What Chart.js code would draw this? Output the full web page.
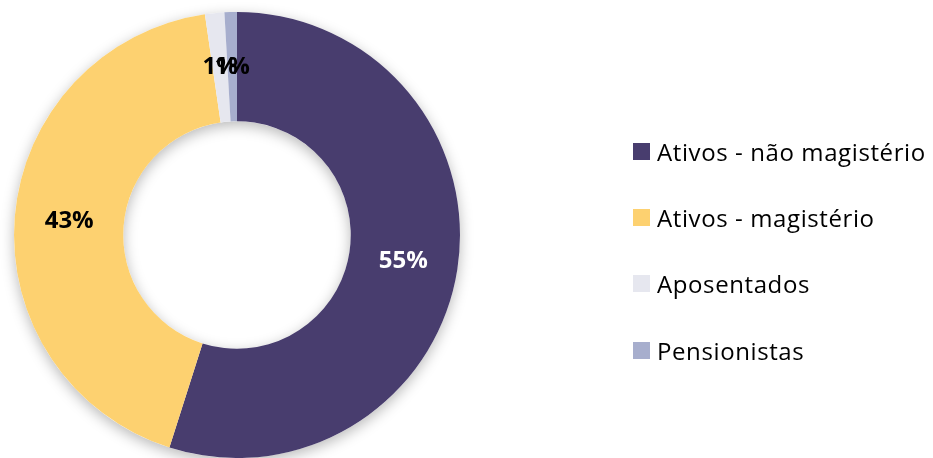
<!DOCTYPE html>
<html lang="pt">
<head>
    <meta charset="UTF-8">
    <title>Composição - Doughnut</title>
    <script src="https://cdn.jsdelivr.net/npm/chart.js"></script>
    <style>
        body { margin: 0; background: #fff; }
        #wrap { position: relative; width: 933px; height: 458px; }
        #legend { position: absolute; left: 633px; top: 118px; margin: 0; padding: 0; list-style: none;
                  font-family: "Open Sans", sans-serif; font-size: 24px; letter-spacing: 0.6px; color: #000; }
        #legend li { height: 66.3px; display: flex; align-items: center; white-space: nowrap; }
        #legend span.box { display: inline-block; width: 17px; height: 17px; margin-right: 7px; }
    </style>
</head>
<body>
    <div id="wrap">
        <canvas id="myChart" width="933" height="458"></canvas>
        <ul id="legend"></ul>
    </div>

    <script>
        // data
        var categories = ['Ativos - não magistério', 'Ativos - magistério', 'Aposentados', 'Pensionistas'];
        var shares = [54.9, 42.8, 1.4, 0.9];
        var colors = ['#483D6E', '#FDD170', '#E6E7EF', '#A7AECD'];
        var labelColors = ['#ffffff', '#000000', '#000000', '#000000'];

        // white ring with a soft shadow under the slices
        var ringShadow = {
            id: 'ringShadow',
            beforeDatasetsDraw: function (chart) {
                var arc = chart.getDatasetMeta(0).data[0];
                if (!arc) return;
                var ctx = chart.ctx;
                ctx.save();
                ctx.shadowColor = 'rgba(0,0,0,0.28)';
                ctx.shadowBlur = 14;
                ctx.shadowOffsetY = 4;
                ctx.fillStyle = '#ffffff';
                ctx.beginPath();
                ctx.arc(arc.x, arc.y, arc.outerRadius, 0, Math.PI * 2);
                ctx.arc(arc.x, arc.y, arc.innerRadius, 0, Math.PI * 2, true);
                ctx.fill();
                ctx.restore();
            }
        };

        // percent labels in the middle of each slice
        var sliceLabels = {
            id: 'sliceLabels',
            afterDatasetsDraw: function (chart) {
                var ctx = chart.ctx;
                var total = shares.reduce(function (a, b) { return a + b; }, 0);
                ctx.save();
                ctx.font = 'bold 24px "Open Sans", sans-serif';
                ctx.textAlign = 'center';
                ctx.textBaseline = 'middle';
                chart.getDatasetMeta(0).data.forEach(function (arc, i) {
                    var p = arc.tooltipPosition();
                    ctx.fillStyle = labelColors[i];
                    ctx.fillText(Math.round(shares[i] / total * 100) + '%', p.x, p.y);
                });
                ctx.restore();
            }
        };

        var ctx = document.getElementById('myChart').getContext('2d');
        var myChart = new Chart(ctx, {
            type: 'doughnut',
            data: {
                labels: categories,
                datasets: [{
                    data: shares,
                    backgroundColor: colors,
                    borderWidth: 0
                }]
            },
            options: {
                responsive: false,
                animation: false,
                cutout: '51%',
                layout: { padding: { left: 14, right: 473, top: 12, bottom: 0 } },
                plugins: {
                    legend: { display: false },
                    tooltip: { enabled: false }
                }
            },
            plugins: [ringShadow, sliceLabels]
        });

        // legend on the right
        var legend = document.getElementById('legend');
        categories.forEach(function (name, i) {
            var li = document.createElement('li');
            li.innerHTML = '<span class="box" style="background:' + colors[i] + '"></span>' + name;
            legend.appendChild(li);
        });
    </script>
</body>
</html>
